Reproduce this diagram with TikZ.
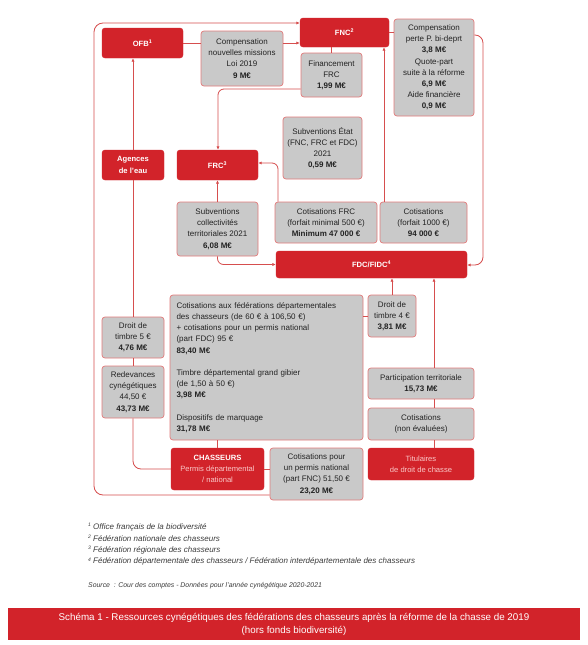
\documentclass[tikz,border=0pt]{standalone}
\usepackage{fontspec}
\setmainfont{Liberation Sans}
\usetikzlibrary{arrows.meta}
\definecolor{fedred}{RGB}{210,35,42}
\definecolor{linered}{RGB}{214,78,78}
\definecolor{boxedge}{RGB}{226,122,122}
\definecolor{boxgray}{RGB}{201,201,201}
\definecolor{txt}{RGB}{35,35,35}
\definecolor{pinktxt}{RGB}{250,200,200}
\definecolor{notetxt}{RGB}{60,60,60}
\begin{document}
\begin{tikzpicture}[x=1pt,y=-1pt,
  gbox/.style={draw=boxedge, fill=boxgray, rounded corners=3pt, line width=0.7pt, align=center, text=txt, font=\fontsize{8}{11.2}\selectfont, inner sep=0pt},
  rbox/.style={fill=fedred, draw=fedred, rounded corners=3pt, align=center, text=white, font=\bfseries\fontsize{7.6}{11.2}\selectfont, inner sep=0pt},
  conn/.style={draw=linered, line width=0.8pt},
  arr/.style={conn, -{Latex[length=3.5pt,width=3.2pt]}},
  note/.style={anchor=west, inner sep=0pt, text=notetxt, font=\itshape\fontsize{8}{9}\selectfont},
  srcnote/.style={anchor=west, inner sep=0pt, text=notetxt, font=\itshape\fontsize{6.9}{8}\selectfont}]
\useasboundingbox[fill=white] (0,0) rectangle (588,645);

% --- nodes
\node[rbox, minimum width=81pt, minimum height=30pt] (ofb) at (142.5,43) {OFB\textsuperscript{1}};
\node[gbox, minimum width=82pt, minimum height=55pt] (cnm) at (242,58.5) {Compensation\\nouvelles missions\\Loi 2019\\\textbf{9 M€}};
\node[rbox, minimum width=89pt, minimum height=29pt] (fnc) at (344.5,32.5) {FNC\textsuperscript{2}};
\node[gbox, minimum width=80pt, minimum height=97pt] (cpe) at (434,67.5) {Compensation\\perte P. bi-deprt\\\textbf{3,8 M€}\\Quote-part\\suite à la réforme\\\textbf{6,9 M€}\\Aide financière\\\textbf{0,9 M€}};
\node[gbox, minimum width=61pt, minimum height=44pt] (fin) at (331.5,75) {Financement\\FRC\\\textbf{1,99 M€}};
\node[rbox, minimum width=62pt, minimum height=30pt] (age) at (133,165) {Agences\\de l’eau};
\node[rbox, minimum width=81pt, minimum height=30pt] (frc) at (217.5,165) {FRC\textsuperscript{3}};
\node[gbox, minimum width=79pt, minimum height=62pt] (set) at (322.5,148) {Subventions État\\(FNC, FRC et FDC)\\2021\\\textbf{0,59 M€}};
\node[gbox, minimum width=81pt, minimum height=54pt] (scol) at (217.5,229) {Subventions\\collectivités\\territoriales 2021\\\textbf{6,08 M€}};
\node[gbox, minimum width=102pt, minimum height=41pt] (cfrc) at (326,222.5) {Cotisations FRC\\(forfait minimal 500 €)\\\textbf{Minimum 47 000 €}};
\node[gbox, minimum width=87pt, minimum height=41pt] (ck) at (423.5,222.5) {Cotisations\\(forfait 1000 €)\\\textbf{94 000 €}};
\node[rbox, minimum width=191pt, minimum height=27pt] (fdc) at (371.5,264.5) {FDC/FIDC\textsuperscript{4}};
\node[gbox, minimum width=62pt, minimum height=41pt] (t5) at (133,337.5) {Droit de\\timbre 5 €\\\textbf{4,76 M€}};
\node[gbox, minimum width=62pt, minimum height=52pt] (red) at (133,392) {Redevances\\cynégétiques\\44,50 €\\\textbf{43,73 M€}};
\node[gbox, minimum width=193pt, minimum height=145pt, align=left, text width=180pt] (big) at (266.5,367.5) {Cotisations aux fédérations départementales\\des chasseurs (de 60 € à 106,50 €)\\+ cotisations pour un permis national\\(part FDC) 95 €\\\textbf{83,40 M€}\\[11.2pt]Timbre départemental grand gibier\\(de 1,50 à 50 €)\\\textbf{3,98 M€}\\[11.2pt]Dispositifs de marquage\\\textbf{31,78 M€}};
\node[gbox, minimum width=48pt, minimum height=42pt] (t4) at (392,316) {Droit de\\timbre 4 €\\\textbf{3,81 M€}};
\node[gbox, minimum width=106pt, minimum height=31pt] (par) at (421,383.5) {Participation territoriale\\\textbf{15,73 M€}};
\node[gbox, minimum width=106pt, minimum height=32pt] (cne) at (421,424) {Cotisations\\(non évaluées)};
\node[rbox, minimum width=106pt, minimum height=32pt, font=\fontsize{7.6}{11.2}\selectfont, text=pinktxt] (tit) at (421,464) {Titulaires\\de droit de chasse};
\node[rbox, minimum width=93pt, minimum height=42pt] (chs) at (217.5,469) {CHASSEURS\\{\mdseries\color{pinktxt}Permis départemental}\\{\mdseries\color{pinktxt}/ national}};
\node[gbox, minimum width=93pt, minimum height=52pt] (cpn) at (316.5,474) {Cotisations pour\\un permis national\\(part FNC) 51,50 €\\\textbf{23,20 M€}};

% --- helper coordinates
\coordinate (lb) at (94,495);
\coordinate (lt) at (94,23);
\coordinate (c1) at (218,89);
\coordinate (r1) at (483,35);
\coordinate (r2) at (483,265);
\coordinate (v1) at (384,0);
\coordinate (v2) at (278,163);
\coordinate (v4) at (434,0);

% --- connectors
\draw[conn] (ofb.east) -- (ofb.east -| cnm.west);
\draw[arr] (cnm.east |- ofb.east) -- (fnc.west |- ofb.east);
\draw[arr, rounded corners=9pt] (cpn.west |- lb) -- (lb) -- (lt) -- (fnc.west |- lt);
\draw[conn] (fnc.south -| fin.north) -- (fin.north);
\draw[arr, rounded corners=6pt] (fin.west |- c1) -- (c1) -- (frc.north -| c1);
\draw[conn] (fnc.east) -- (fnc.east -| cpe.west);
\draw[arr, rounded corners=8pt] (cpe.east |- r1) -- (r1) -- (r2) -- (fdc.east |- r2);
\draw[arr] (ck.north -| v1) -- (fnc.south -| v1);
\draw[arr, rounded corners=6pt] (cfrc.north -| v2) -- (v2) -- (frc.east |- v2);
\draw[arr] (scol.north) -- (frc.south);
\draw[arr, rounded corners=6pt] (scol.south) |- (fdc.west);
\draw[arr] (age.north) -- (ofb.south -| age.north);
\draw[conn] (t5.north) -- (age.south);
\draw[conn] (red.north) -- (t5.south);
\draw[conn, rounded corners=8pt] (red.south) |- (chs.west);
\draw[conn] (big.south -| chs.north) -- (chs.north);
\draw[conn] (chs.east) -- (cpn.west |- chs.east);
\draw[conn] (big.east |- t4.west) -- (t4.west);
\draw[arr] (t4.north) -- (fdc.south -| t4.north);
\draw[arr] (par.north -| v4) -- (fdc.south -| v4);
\draw[conn] (cne.north -| v4) -- (par.south -| v4);
\draw[conn] (tit.north -| v4) -- (cne.south -| v4);

% --- notes
\node[note] (n1) at (88,527) {{\fontsize{5}{6}\selectfont\raisebox{2.5pt}{1}} Office français de la biodiversité};
\node[note] (n2) at (88,538.5) {{\fontsize{5}{6}\selectfont\raisebox{2.5pt}{2}} Fédération nationale des chasseurs};
\node[note] (n3) at (88,550) {{\fontsize{5}{6}\selectfont\raisebox{2.5pt}{3}} Fédération régionale des chasseurs};
\node[note] (n4) at (88,561.5) {{\fontsize{5}{6}\selectfont\raisebox{2.5pt}{4}} Fédération départementale des chasseurs / Fédération interdépartementale des chasseurs};
\node[srcnote] (src) at (88,586) {Source~~: Cour des comptes - Données pour l’année cynégétique 2020-2021};

% --- caption
\node[fill=fedred, minimum width=572pt, minimum height=32pt, inner sep=0pt, align=center, text=white, font=\fontsize{9.8}{13}\selectfont] (cap) at (294,624) {Schéma 1 - Ressources cynégétiques des fédérations des chasseurs après la réforme de la chasse de 2019\\(hors fonds biodiversité)};
\end{tikzpicture}
\end{document}
